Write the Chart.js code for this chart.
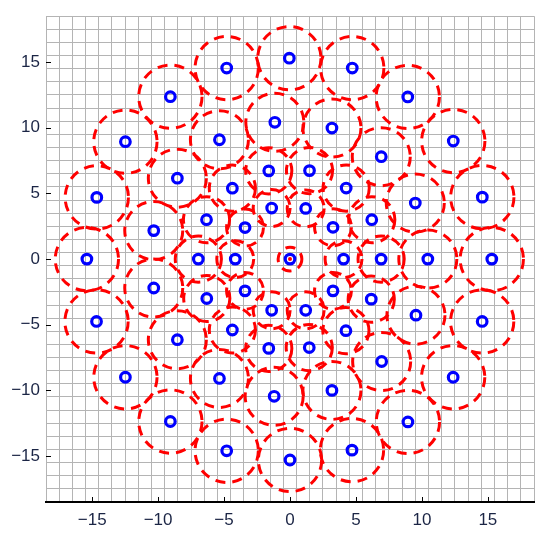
<!DOCTYPE html>
<html>
<head>
<meta charset="utf-8">
<script src="https://cdn.jsdelivr.net/npm/chart.js@4.4.1/dist/chart.umd.min.js"></script>
<style>
  body { margin: 0; background: #fff; }
  #wrap { width: 550px; height: 535px; }
</style>
</head>
<body>
<div id="wrap"><canvas id="chart" width="550" height="535"></canvas></div>
<script>
// centre point and the four rings of points around it
const centerX = [0];
const centerY = [0];
const ring1X = [4.06, 3.26, 1.19, -1.39, -3.41, -4.15, -3.41, -1.39, 1.19, 3.26];
const ring1Y = [0, 2.42, 3.86, 3.89, 2.4, 0, -2.42, -3.9, -3.9, -2.42];
const ring2X = [6.91, 6.2, 4.26, 1.48, -1.61, -4.37, -6.33, -6.95, -6.31, -4.37, -1.61, 1.46, 4.24, 6.16];
const ring2Y = [0, 3.0, 5.41, 6.74, 6.72, 5.4, 3.0, 0, -3.0, -5.4, -6.8, -6.74, -5.45, -3.05];
const ring3X = [10.45, 9.5, 6.92, 3.18, -1.15, -5.35, -8.54, -10.33, -10.33, -8.54, -5.35, -1.2, 3.18, 6.95, 9.55];
const ring3Y = [0, 4.27, 7.8, 9.98, 10.42, 9.09, 6.16, 2.17, -2.2, -6.14, -9.09, -10.45, -10.0, -7.8, -4.27];
const ring4X = [15.3, 14.58, 12.38, 8.93, 4.72, -0.05, -4.8, -9.07, -12.48, -14.65, -15.4, -14.67, -12.48, -9.07, -4.8, 0, 4.7, 8.94, 12.37, 14.57];
const ring4Y = [0, 4.72, 8.99, 12.35, 14.55, 15.3, 14.55, 12.37, 8.94, 4.7, 0, -4.75, -9.0, -12.37, -14.6, -15.3, -14.55, -12.4, -9.0, -4.75];
// radius of the dashed circle around each point of centre, ring1..ring4 (data units)
const circleR = [0.9, 1.4, 1.75, 2.2, 2.4];
const tickValues = [-15, -10, -5, 0, 5, 10, 15];
const tickLabels = ['\u221215', '\u221210', '\u22125', '0', '5', '10', '15'];
const axisMin = -18.5;
const axisMax = 18.5;

const allX = [centerX, ring1X, ring2X, ring3X, ring4X];
const allY = [centerY, ring1Y, ring2Y, ring3Y, ring4Y];

function zip(xs, ys) {
	return xs.map((v, i) => ({ x: v, y: ys[i] }));
}

// grid every unit, on the half values
let gridTicks = [];
for (let v = axisMin; v <= axisMax + 0.01; v += 1)
	gridTicks.push(v);
const scaleTicks = gridTicks.concat(tickValues).sort((a, b) => a - b);

function pxRadius(chart, r) {
	const s = chart.scales.x;
	if (!s)
		return 0;
	const d = Math.abs(s.getPixelForValue(r) - s.getPixelForValue(0));
	return isFinite(d) ? d : 0;
}

const labelFont = { family: '"Liberation Sans", Arial, sans-serif', size: 17 };
const labelColor = '#1b2545';
const gridColor = '#b4b4b4';

function gridLineColor(ctx) {
	if (ctx.tick && tickValues.includes(ctx.tick.value))
		return 'rgba(0,0,0,0)';
	return gridColor;
}
function tickText(value) {
	const i = tickValues.indexOf(value);
	return i >= 0 ? tickLabels[i] : '';
}

let datasets = [];
datasets.push({
	data: zip(centerX, centerY),
	pointRadius: 2,
	pointBorderWidth: 0,
	pointBackgroundColor: '#ff0000',
	order: 1
});
datasets.push({
	data: allX.flatMap((xs, i) => zip(xs, allY[i])),
	pointRadius: 4.8,
	pointBorderWidth: 3.2,
	pointBorderColor: '#0000ff',
	pointBackgroundColor: 'rgba(0,0,0,0)',
	order: 2
});
allX.forEach((xs, i) => {
	datasets.push({
		data: zip(xs, allY[i]),
		dashed: true,
		pointRadius: ctx => pxRadius(ctx.chart, circleR[i]),
		pointBorderWidth: 3,
		pointBorderColor: '#ff0000',
		pointBackgroundColor: 'rgba(0,0,0,0)',
		order: 3
	});
});

const dashPlugin = {
	id: 'dashCircles',
	beforeDatasetDraw(chart, args) {
		if (chart.data.datasets[args.index].dashed) {
			chart.ctx.save();
			chart.ctx.setLineDash([10, 7]);
		}
	},
	afterDatasetDraw(chart, args) {
		if (chart.data.datasets[args.index].dashed)
			chart.ctx.restore();
	}
};

// small tick marks pointing into the plot
const innerTicks = {
	id: 'innerTicks',
	afterDatasetsDraw(chart) {
		const ctx = chart.ctx;
		const a = chart.chartArea;
		const x = chart.scales.x;
		const y = chart.scales.y;
		ctx.save();
		ctx.strokeStyle = '#000';
		ctx.lineWidth = 1;
		tickValues.forEach(v => {
			const px = Math.round(x.getPixelForValue(v)) + 0.5;
			ctx.beginPath();
			ctx.moveTo(px, a.bottom);
			ctx.lineTo(px, a.bottom - 5);
			ctx.stroke();
			const py = Math.round(y.getPixelForValue(v)) + 0.5;
			ctx.beginPath();
			ctx.moveTo(a.left, py);
			ctx.lineTo(a.left + 5, py);
			ctx.stroke();
		});
		ctx.restore();
	}
};

new Chart(document.getElementById('chart'), {
	type: 'scatter',
	data: { datasets: datasets },
	plugins: [dashPlugin, innerTicks],
	options: {
		responsive: false,
		animation: false,
		events: [],
		layout: { autoPadding: false, padding: { top: 14, right: 16, left: 0, bottom: 0 } },
		plugins: { legend: { display: false }, tooltip: { enabled: false } },
		scales: {
			x: {
				type: 'linear',
				min: axisMin,
				max: axisMax,
				afterBuildTicks: s => { s.ticks = scaleTicks.map(v => ({ value: v })); },
				afterFit: s => { s.height = 33; },
				grid: { color: gridLineColor, lineWidth: 1, drawTicks: false },
				border: { display: true, color: '#000', width: 2, z: 1 },
				ticks: { autoSkip: false, maxRotation: 0, padding: 8, color: labelColor, font: labelFont, callback: v => tickText(v) }
			},
			y: {
				type: 'linear',
				min: axisMin,
				max: axisMax,
				afterBuildTicks: s => { s.ticks = scaleTicks.map(v => ({ value: v })); },
				afterFit: s => { s.width = 46; },
				grid: { color: gridLineColor, lineWidth: 1, drawTicks: false },
				border: { display: true, color: gridColor, width: 1 },
				ticks: { autoSkip: false, padding: 6, color: labelColor, font: labelFont, callback: v => tickText(v) }
			}
		}
	}
});
</script>
</body>
</html>
